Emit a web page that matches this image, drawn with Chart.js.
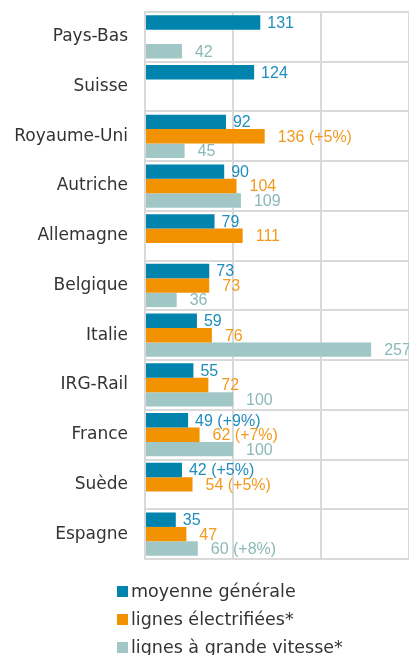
<!DOCTYPE html>
<html>
<head>
<meta charset="utf-8">
<script src="https://cdn.jsdelivr.net/npm/chart.js@4"></script>
<style>
  body { margin: 0; background: #fff; }
  #wrap { position: relative; width: 409px; height: 655px; }
  #legend { position: absolute; left: 117px; top: 577px; font-family: "DejaVu Sans", sans-serif; font-size: 17.5px; color: #333; }
  #legend div { height: 28px; line-height: 28px; white-space: nowrap; }
  #legend span.box { display: inline-block; width: 11px; height: 11px; margin-right: 3px; }
</style>
</head>
<body>
<div id="wrap">
  <canvas id="chart" width="409" height="655"></canvas>
  <div id="legend"></div>
</div>
<script>
  const countries = ["Pays-Bas", "Suisse", "Royaume-Uni", "Autriche", "Allemagne", "Belgique", "Italie", "IRG-Rail", "France", "Suède", "Espagne"];

  const moyenne = [131, 124, 92, 90, 79, 73, 59, 55, 49, 42, 35];
  const electrifiees = [null, null, 136, 104, 111, 73, 76, 72, 62, 54, 47];
  const grandeVitesse = [42, null, 45, 109, null, 36, 257, 100, 100, null, 60];

  // evolution notes shown after some values
  const moyenneNotes = ["", "", "", "", "", "", "", "", "(+9%)", "(+5%)", ""];
  const electrifieesNotes = ["", "", "(+5%)", "", "", "", "", "", "(+7%)", "(+5%)", ""];
  const grandeVitesseNotes = ["", "", "", "", "", "", "", "", "", "", "(+8%)"];

  const xTicks = [0, 100, 200, 300];

  const FONT = "DejaVu Sans";
  const LABEL_FONT = "Liberation Sans";

  // draws value labels at the end of each bar
  const barLabels = {
    id: "barLabels",
    afterDatasetsDraw(chart) {
      const ctx = chart.ctx;
      ctx.save();
      ctx.font = "16px '" + LABEL_FONT + "'";
      ctx.textAlign = "left";
      ctx.textBaseline = "middle";
      chart.data.datasets.forEach((ds, i) => {
        const meta = chart.getDatasetMeta(i);
        meta.data.forEach((bar, j) => {
          const v = ds.data[j];
          if (v === null) return;
          const note = ds.notes[j];
          ctx.fillStyle = ds.labelColor;
          ctx.fillText(note ? v + " " + note : String(v), bar.x + ds.labelOffset, bar.y + 1);
        });
      });
      ctx.restore();
    }
  };

  const chart = new Chart(document.getElementById("chart"), {
    type: "bar",
    data: {
      labels: countries,
      datasets: [
        { label: "moyenne générale", data: moyenne, notes: moyenneNotes, backgroundColor: "#0083ac", labelColor: "#1f8dbd", labelOffset: 7 },
        { label: "lignes électrifiées*", data: electrifiees, notes: electrifieesNotes, backgroundColor: "#f39200", labelColor: "#f29a1f", labelOffset: 13 },
        { label: "lignes à grande vitesse*", data: grandeVitesse, notes: grandeVitesseNotes, backgroundColor: "#a0c6c5", labelColor: "#8cb8b7", labelOffset: 13 }
      ]
    },
    options: {
      indexAxis: "y",
      responsive: false,
      animation: false,
      layout: { padding: { top: 12, right: 0, bottom: 96, left: 0 } },
      datasets: { bar: { categoryPercentage: 0.87, barPercentage: 1 } },
      plugins: { legend: { display: false }, tooltip: { enabled: false } },
      scales: {
        x: {
          min: 0,
          max: 300,
          afterBuildTicks: scale => { scale.ticks = xTicks.map(v => ({ value: v })); },
          ticks: { display: false },
          grid: { color: "#d9d9d9", lineWidth: 2, drawTicks: false },
          border: { display: false }
        },
        y: {
          afterFit: scale => {
            scale.width = 145;
            scale.paddingTop = 0;
            scale.paddingBottom = 0;
          },
          ticks: { color: "#333", padding: 17, font: { family: FONT, size: 17 } },
          grid: { color: "#d9d9d9", lineWidth: 2, drawTicks: false },
          border: { color: "#d9d9d9", width: 2 }
        }
      }
    },
    plugins: [barLabels]
  });

  // legend, one entry per line
  const legend = document.getElementById("legend");
  chart.data.datasets.forEach(ds => {
    const row = document.createElement("div");
    const box = document.createElement("span");
    box.className = "box";
    box.style.background = ds.backgroundColor;
    row.appendChild(box);
    row.appendChild(document.createTextNode(ds.label));
    legend.appendChild(row);
  });
</script>
</body>
</html>
